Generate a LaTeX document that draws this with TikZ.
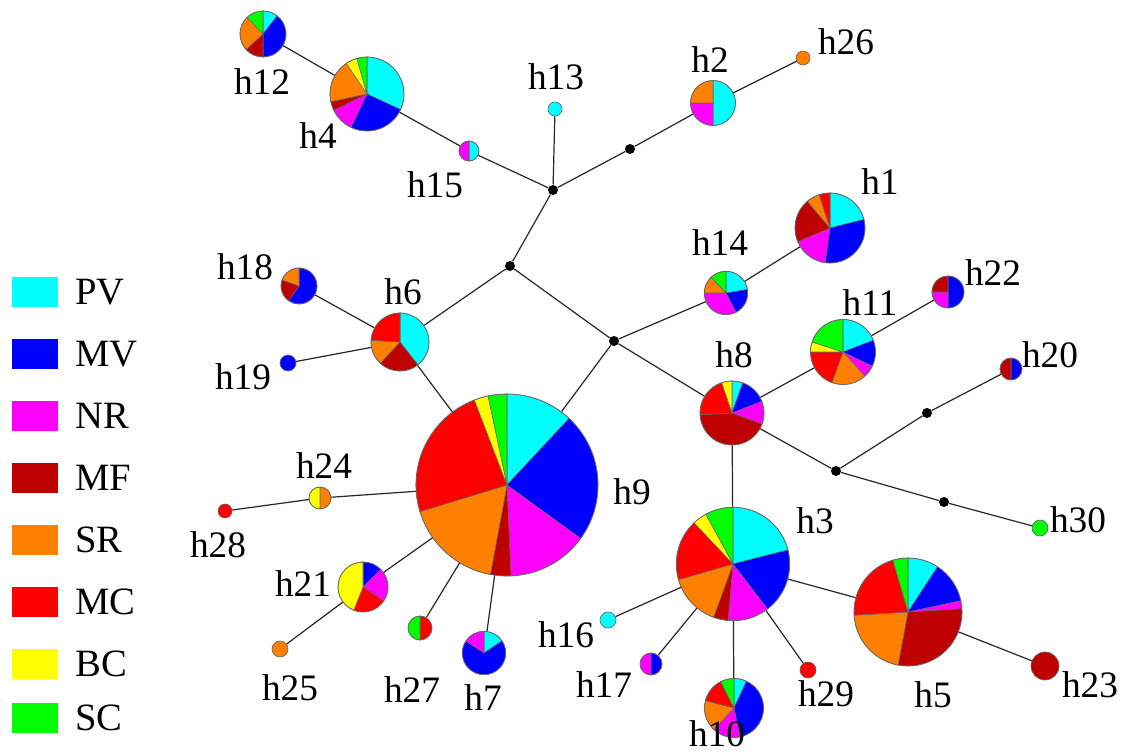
\documentclass[tikz,border=0pt]{standalone}
\usepackage{fontspec}
\setmainfont{Liberation Serif}
\definecolor{cPV}{RGB}{0,255,255}
\definecolor{cMV}{RGB}{0,0,255}
\definecolor{cNR}{RGB}{255,0,255}
\definecolor{cMF}{RGB}{190,0,0}
\definecolor{cSR}{RGB}{255,128,0}
\definecolor{cMC}{RGB}{255,0,0}
\definecolor{cBC}{RGB}{255,255,0}
\definecolor{cSC}{RGB}{0,255,0}
\colorlet{col1}{cPV}\colorlet{col2}{cMV}\colorlet{col3}{cNR}\colorlet{col4}{cMF}
\colorlet{col5}{cSR}\colorlet{col6}{cMC}\colorlet{col7}{cBC}\colorlet{col8}{cSC}
\colorlet{pieedge}{black!60}
\newcommand\drawpie[3]{%
  \gdef\pieacc{0}%
  \foreach \v [count=\i] in {#3} {%
    \pgfmathsetmacro\aend{\pieacc+\v}%
    \ifdim\v pt>0pt
      \ifdim\v pt<360pt
        \fill[fill=col\i, draw=pieedge, line width=0.4pt] (#1.center) -- ++({90-\pieacc}:#2) arc[start angle={90-\pieacc}, end angle={90-\aend}, radius=#2] -- cycle;
      \else
        \fill[fill=col\i] (#1.center) circle[radius=#2];
      \fi
    \fi
    \xdef\pieacc{\aend}%
  }%
  \draw[pieedge, line width=0.5pt] (#1.center) circle[radius=#2];
}
\tikzset{
  hap/.style={circle, inner sep=0pt, minimum size={1.5*#1 pt}},
  med/.style={circle, fill=black, inner sep=0pt, minimum size=7.5pt},
  link/.style={draw=black!85, line width=0.9pt},
  lab/.style={font=\fontsize{28}{30}\selectfont, inner sep=0pt},
  legbox/.style={rectangle, inner sep=0pt, minimum width=34.5pt, minimum height=22.5pt},
  legtext/.style={font=\fontsize{29}{31}\selectfont, inner sep=0pt, anchor=west}
}
\begin{document}
\begin{tikzpicture}[x=0.75pt,y=0.75pt]
\useasboundingbox (0,0) rectangle (1133,-752);
% haplotype positions
\node[hap=91] (h9) at (507,-485) {};
\node[hap=37] (h4) at (367,-94) {};
\node[hap=23] (h12) at (263,-34) {};
\node[hap=22.5] (h2) at (713,-103) {};
\node[hap=35] (h1) at (830,-228) {};
\node[hap=21.7] (h14) at (726,-293) {};
\node[hap=32.5] (h11) at (843,-352) {};
\node[hap=29] (h6) at (400,-342) {};
\node[hap=18] (h18) at (299,-286) {};
\node[hap=8] (h19) at (288,-363) {};
\node[hap=32] (h8) at (732,-413) {};
\node[hap=56.7] (h3) at (733,-564) {};
\node[hap=54] (h5) at (908,-612) {};
\node[hap=25] (h21) at (363,-587) {};
\node[hap=12] (h27) at (420,-628) {};
\node[hap=21.7] (h7) at (484,-653) {};
\node[hap=29.5] (h10) at (734,-708) {};
\node[hap=7] (h13) at (555,-109) {};
\node[hap=10] (h15) at (469,-151) {};
\node[hap=7] (h26) at (803,-58) {};
\node[hap=16] (h22) at (948,-292) {};
\node[hap=11] (h20) at (1011,-369) {};
\node[hap=8] (h30) at (1040,-528) {};
\node[hap=14] (h23) at (1045,-666) {};
\node[hap=8] (h29) at (808,-670) {};
\node[hap=11] (h17) at (651,-664) {};
\node[hap=8] (h16) at (608,-620) {};
\node[hap=8] (h25) at (280,-649) {};
\node[hap=7] (h28) at (225,-511) {};
\node[hap=11] (h24) at (320,-498) {};
% median vectors
\node[med] (m1) at (553,-190) {};
\node[med] (m2) at (630,-149) {};
\node[med] (m3) at (510,-266) {};
\node[med] (m4) at (614,-341) {};
\node[med] (m5) at (927,-413) {};
\node[med] (m6) at (836,-471) {};
\node[med] (m7) at (944,-502) {};
% connectors
\draw[link] (h12) -- (h4);
\draw[link] (h4) -- (h15);
\draw[link] (h15) -- (m1);
\draw[link] (h13) -- (m1);
\draw[link] (m1) -- (m2);
\draw[link] (m2) -- (h2);
\draw[link] (h2) -- (h26);
\draw[link] (m1) -- (m3);
\draw[link] (m3) -- (h6);
\draw[link] (m3) -- (m4);
\draw[link] (m4) -- (h14);
\draw[link] (h14) -- (h1);
\draw[link] (m4) -- (h9);
\draw[link] (m4) -- (h8);
\draw[link] (h6) -- (h18);
\draw[link] (h6) -- (h19);
\draw[link] (h6) -- (h9);
\draw[link] (h8) -- (h11);
\draw[link] (h11) -- (h22);
\draw[link] (h8) -- (m6);
\draw[link] (m6) -- (m5);
\draw[link] (m5) -- (h20);
\draw[link] (m6) -- (m7);
\draw[link] (m7) -- (h30);
\draw[link] (h8) -- (h3);
\draw[link] (h3) -- (h16);
\draw[link] (h3) -- (h17);
\draw[link] (h3) -- (h10);
\draw[link] (h3) -- (h29);
\draw[link] (h3) -- (h5);
\draw[link] (h5) -- (h23);
\draw[link] (h9) -- (h24);
\draw[link] (h24) -- (h28);
\draw[link] (h9) -- (h21);
\draw[link] (h21) -- (h25);
\draw[link] (h9) -- (h27);
\draw[link] (h9) -- (h7);
% pies: PV, MV, NR, MF, SR, MC, BC, SC (clockwise from top)
\drawpie{h9}{91}{43,83,51.5,13,62.5,86,9,12}
\drawpie{h4}{37}{115,90.6,38.4,14,68,0,18,16}
\drawpie{h12}{23}{38,142,0,47.6,88.6,0,0,43.8}
\drawpie{h2}{22.5}{180,0,90,0,90,0,0,0}
\drawpie{h1}{35}{76,112,59,72.7,22.3,18,0,0}
\drawpie{h14}{21.7}{81,71.6,117.4,0,46.2,0,0,43.8}
\drawpie{h11}{32.5}{69,47,22,0,62,70,18,72}
\drawpie{h6}{29}{142,0,0,80.7,50.7,86.6,0,0}
\drawpie{h18}{18}{0,215,0,75,70,0,0,0}
\drawpie{h19}{8}{0,360,0,0,0,0,0,0}
\drawpie{h8}{32}{19.7,49,41.6,156.4,0,74.6,18.7,0}
\drawpie{h3}{56.7}{75.7,66.8,42.5,15,54,62.7,14.7,28.6}
\drawpie{h5}{54}{33.2,44.8,8.6,104,76,77.2,0,16.2}
\drawpie{h21}{25}{0,45,78.7,0,0,78,158.3,0}
\drawpie{h27}{12}{0,0,0,0,0,180,0,180}
\drawpie{h7}{21.7}{56,247.4,56.6,0,0,0,0,0}
\drawpie{h10}{29.5}{25,143.3,54.7,0,61.6,48.6,0,26.8}
\drawpie{h13}{7}{360,0,0,0,0,0,0,0}
\drawpie{h15}{10}{180,0,180,0,0,0,0,0}
\drawpie{h26}{7}{0,0,0,0,360,0,0,0}
\drawpie{h22}{16}{0,180,90,90,0,0,0,0}
\drawpie{h20}{11}{0,180,0,180,0,0,0,0}
\drawpie{h30}{8}{0,0,0,0,0,0,0,360}
\drawpie{h23}{14}{0,0,0,360,0,0,0,0}
\drawpie{h29}{8}{0,0,0,0,0,360,0,0}
\drawpie{h17}{11}{0,180,180,0,0,0,0,0}
\drawpie{h16}{8}{360,0,0,0,0,0,0,0}
\drawpie{h25}{8}{0,0,0,0,360,0,0,0}
\drawpie{h28}{7}{0,0,0,0,0,360,0,0}
\drawpie{h24}{11}{0,0,0,0,180,0,180,0}
% labels
\node[lab] (lh12) at (262,-82) {h12};
\node[lab] (lh4) at (318,-136) {h4};
\node[lab] (lh15) at (435,-185) {h15};
\node[lab] (lh13) at (556,-77) {h13};
\node[lab] (lh2) at (710,-60) {h2};
\node[lab] (lh26) at (846,-42) {h26};
\node[lab] (lh1) at (880,-182) {h1};
\node[lab] (lh14) at (720,-243) {h14};
\node[lab] (lh22) at (993,-273) {h22};
\node[lab] (lh11) at (870,-303) {h11};
\node[lab] (lh18) at (245,-267) {h18};
\node[lab] (lh6) at (403,-292) {h6};
\node[lab] (lh19) at (243,-377) {h19};
\node[lab] (lh8) at (734,-355) {h8};
\node[lab] (lh20) at (1050,-355) {h20};
\node[lab] (lh9) at (632,-492) {h9};
\node[lab] (lh24) at (324,-466) {h24};
\node[lab] (lh28) at (218,-545) {h28};
\node[lab] (lh3) at (815,-521) {h3};
\node[lab] (lh21) at (303,-584) {h21};
\node[lab] (lh16) at (566,-635) {h16};
\node[lab] (lh5) at (933,-695) {h5};
\node[lab] (lh23) at (1090,-685) {h23};
\node[lab] (lh27) at (412,-690) {h27};
\node[lab] (lh7) at (483,-698) {h7};
\node[lab] (lh17) at (604,-685) {h17};
\node[lab] (lh29) at (826,-694) {h29};
\node[lab] (lh10) at (717,-734) {h10};
\node[lab] (lh25) at (290,-688) {h25};
\node[lab] (lh30) at (1078,-520) {h30};
% legend
\node[legbox, fill=cPV] (kPV) at (35,-292) {};
\node[legbox, fill=cMV] (kMV) at (35,-354) {};
\node[legbox, fill=cNR] (kNR) at (35,-416) {};
\node[legbox, fill=cMF] (kMF) at (35,-478) {};
\node[legbox, fill=cSR] (kSR) at (35,-540) {};
\node[legbox, fill=cMC] (kMC) at (35,-602) {};
\node[legbox, fill=cBC] (kBC) at (35,-664) {};
\node[legbox, fill=cSC] (kSC) at (35,-718) {};
\node[legtext] (tPV) at (75,-292) {PV};
\node[legtext] (tMV) at (75,-354) {MV};
\node[legtext] (tNR) at (75,-416) {NR};
\node[legtext] (tMF) at (75,-478) {MF};
\node[legtext] (tSR) at (75,-540) {SR};
\node[legtext] (tMC) at (75,-602) {MC};
\node[legtext] (tBC) at (75,-664) {BC};
\node[legtext] (tSC) at (75,-718) {SC};
\end{tikzpicture}
\end{document}
